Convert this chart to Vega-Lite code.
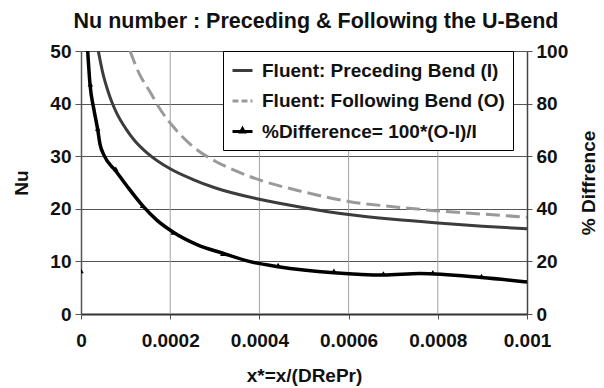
{
  "$schema": "https://vega.github.io/schema/vega-lite/v6.json",
  "width": 446,
  "height": 263,
  "autosize": {"type": "none"},
  "padding": {"left": 81, "top": 51, "right": 77, "bottom": 74},
  "background": "white",
  "title": {"text": "Nu number : Preceding & Following the U-Bend", "font": "Liberation Sans", "fontSize": 21.5, "fontWeight": "bold", "color": "#111111", "anchor": "middle", "offset": 10, "dx": 12},
  "config": {
    "view": {"stroke": null},
    "axis": {"labelFont": "Liberation Sans", "labelFontWeight": "bold", "labelFontSize": 19, "labelColor": "#111111", "titleFont": "Liberation Sans", "titleFontWeight": "bold", "titleFontSize": 19, "titleColor": "#111111"}
  },
  "datasets": {
    "xgrid": [{"x": 0.0002}, {"x": 0.0004}, {"x": 0.0006}, {"x": 0.0008}],
    "preceding": [
      {"x": 0.0000388, "Nu": 50, "series": "Fluent: Preceding Bend (I)"},
      {"x": 0.00005, "Nu": 45.4, "series": "Fluent: Preceding Bend (I)"},
      {"x": 0.00006, "Nu": 42.5, "series": "Fluent: Preceding Bend (I)"},
      {"x": 0.00007, "Nu": 40.1, "series": "Fluent: Preceding Bend (I)"},
      {"x": 0.00008, "Nu": 38.2, "series": "Fluent: Preceding Bend (I)"},
      {"x": 0.0001, "Nu": 35.3, "series": "Fluent: Preceding Bend (I)"},
      {"x": 0.00012, "Nu": 33.0, "series": "Fluent: Preceding Bend (I)"},
      {"x": 0.00015, "Nu": 30.5, "series": "Fluent: Preceding Bend (I)"},
      {"x": 0.0002, "Nu": 27.6, "series": "Fluent: Preceding Bend (I)"},
      {"x": 0.00025, "Nu": 25.6, "series": "Fluent: Preceding Bend (I)"},
      {"x": 0.0003, "Nu": 24.0, "series": "Fluent: Preceding Bend (I)"},
      {"x": 0.0004, "Nu": 21.8, "series": "Fluent: Preceding Bend (I)"},
      {"x": 0.0005, "Nu": 20.2, "series": "Fluent: Preceding Bend (I)"},
      {"x": 0.0006, "Nu": 18.9, "series": "Fluent: Preceding Bend (I)"},
      {"x": 0.0007, "Nu": 18.0, "series": "Fluent: Preceding Bend (I)"},
      {"x": 0.0008, "Nu": 17.3, "series": "Fluent: Preceding Bend (I)"},
      {"x": 0.0009, "Nu": 16.7, "series": "Fluent: Preceding Bend (I)"},
      {"x": 0.001, "Nu": 16.2, "series": "Fluent: Preceding Bend (I)"}
    ],
    "following": [
      {"x": 0.00011, "Nu": 50, "series": "Fluent: Following Bend (O)"},
      {"x": 0.00013, "Nu": 45.8, "series": "Fluent: Following Bend (O)"},
      {"x": 0.000155, "Nu": 42.2, "series": "Fluent: Following Bend (O)"},
      {"x": 0.00018, "Nu": 38.6, "series": "Fluent: Following Bend (O)"},
      {"x": 0.00021, "Nu": 35.3, "series": "Fluent: Following Bend (O)"},
      {"x": 0.00025, "Nu": 31.9, "series": "Fluent: Following Bend (O)"},
      {"x": 0.0003, "Nu": 29.1, "series": "Fluent: Following Bend (O)"},
      {"x": 0.00035, "Nu": 27.1, "series": "Fluent: Following Bend (O)"},
      {"x": 0.0004, "Nu": 25.5, "series": "Fluent: Following Bend (O)"},
      {"x": 0.0005, "Nu": 23.2, "series": "Fluent: Following Bend (O)"},
      {"x": 0.0006, "Nu": 21.4, "series": "Fluent: Following Bend (O)"},
      {"x": 0.0007, "Nu": 20.4, "series": "Fluent: Following Bend (O)"},
      {"x": 0.0008, "Nu": 19.6, "series": "Fluent: Following Bend (O)"},
      {"x": 0.0009, "Nu": 19.0, "series": "Fluent: Following Bend (O)"},
      {"x": 0.001, "Nu": 18.4, "series": "Fluent: Following Bend (O)"}
    ],
    "diffLine": [
      {"x": 0.000015, "pct": 100, "series": "%Difference= 100*(O-I)/I"},
      {"x": 0.0000202, "pct": 87.3, "series": "%Difference= 100*(O-I)/I"},
      {"x": 0.0000291, "pct": 77.6, "series": "%Difference= 100*(O-I)/I"},
      {"x": 0.0000374, "pct": 70.2, "series": "%Difference= 100*(O-I)/I"},
      {"x": 0.0000426, "pct": 64.6, "series": "%Difference= 100*(O-I)/I"},
      {"x": 0.000052, "pct": 60.2, "series": "%Difference= 100*(O-I)/I"},
      {"x": 0.000078, "pct": 54.4, "series": "%Difference= 100*(O-I)/I"},
      {"x": 0.000105, "pct": 48.2, "series": "%Difference= 100*(O-I)/I"},
      {"x": 0.000138, "pct": 41.2, "series": "%Difference= 100*(O-I)/I"},
      {"x": 0.00017, "pct": 35.7, "series": "%Difference= 100*(O-I)/I"},
      {"x": 0.000207, "pct": 31.1, "series": "%Difference= 100*(O-I)/I"},
      {"x": 0.00026, "pct": 26.4, "series": "%Difference= 100*(O-I)/I"},
      {"x": 0.000318, "pct": 23.1, "series": "%Difference= 100*(O-I)/I"},
      {"x": 0.000379, "pct": 19.9, "series": "%Difference= 100*(O-I)/I"},
      {"x": 0.000442, "pct": 18.0, "series": "%Difference= 100*(O-I)/I"},
      {"x": 0.000567, "pct": 15.7, "series": "%Difference= 100*(O-I)/I"},
      {"x": 0.000678, "pct": 14.8, "series": "%Difference= 100*(O-I)/I"},
      {"x": 0.000760, "pct": 15.4, "series": "%Difference= 100*(O-I)/I"},
      {"x": 0.000898, "pct": 13.9, "series": "%Difference= 100*(O-I)/I"},
      {"x": 0.001, "pct": 12.2, "series": "%Difference= 100*(O-I)/I"}
    ],
    "diffPts": [
      {"x": 0.0, "pct": 16.4},
      {"x": 0.000021, "pct": 87.4},
      {"x": 0.0000374, "pct": 70.6},
      {"x": 0.000078, "pct": 55.2},
      {"x": 0.000138, "pct": 41.2},
      {"x": 0.000207, "pct": 31.0},
      {"x": 0.000318, "pct": 23.0},
      {"x": 0.000442, "pct": 18.6},
      {"x": 0.000567, "pct": 16.4},
      {"x": 0.000678, "pct": 15.4},
      {"x": 0.000789, "pct": 15.8},
      {"x": 0.000898, "pct": 14.4}
    ]
  },
  "layer": [
    {
      "layer": [
        {
          "data": {"name": "xgrid"},
          "mark": {"type": "rule", "color": "#a0a0a0", "strokeWidth": 1},
          "encoding": {
            "x": {"field": "x", "type": "quantitative"}
          }
        },
        {
          "data": {"name": "preceding"},
          "mark": {"type": "line", "strokeWidth": 3, "interpolate": "monotone", "clip": true},
          "encoding": {
            "x": {"field": "x", "type": "quantitative", "scale": {"domain": [0, 0.001], "nice": false, "zero": false},
              "axis": {"values": [0, 0.0002, 0.0004, 0.0006, 0.0008, 0.001], "format": ".4~f", "title": "x*=x/(DRePr)", "titlePadding": 16, "grid": false, "domainColor": "#333333", "domainWidth": 2, "tickColor": "#555555", "tickSize": 5, "labelPadding": 12, "labelFlush": false}},
            "y": {"field": "Nu", "type": "quantitative", "scale": {"domain": [0, 50], "nice": false},
              "axis": {"orient": "left", "values": [0, 10, 20, 30, 40, 50], "title": "Nu", "titlePadding": 18, "grid": true, "gridColor": "#555555", "gridWidth": 1, "domainColor": "#555555", "domainWidth": 1.5, "tickColor": "#555555", "tickSize": 6, "labelPadding": 4}},
            "color": {"field": "series", "type": "nominal",
              "scale": {"domain": ["Fluent: Preceding Bend (I)", "Fluent: Following Bend (O)", "%Difference= 100*(O-I)/I"], "range": ["#3c3c3c", "#9a9a9a", "#000000"]},
              "legend": {"orient": "none", "legendX": 142, "legendY": 0, "title": null, "strokeColor": "#000000", "fillColor": "#ffffff", "padding": 8, "rowPadding": 8.5, "labelFont": "Liberation Sans", "labelFontWeight": "bold", "labelFontSize": 19, "labelColor": "#111111", "labelOffset": 8, "labelLimit": 400, "symbolSize": 400, "symbolStrokeWidth": 3, "symbolType": "stroke",
                "encode": {"symbols": {"update": {
                  "strokeDash": {"signal": "datum.value === 'Fluent: Following Bend (O)' ? [6, 3] : [1, 0]"},
                  "shape": {"signal": "datum.value === '%Difference= 100*(O-I)/I' ? 'M-1,0H1M-0.18,0.05L0,-0.28L0.18,0.05Z' : 'M-1,0H1'"},
                  "fill": {"signal": "datum.value === '%Difference= 100*(O-I)/I' ? '#000000' : 'transparent'"}
                }}}}
            }
          }
        },
        {
          "data": {"name": "following"},
          "mark": {"type": "line", "strokeWidth": 3, "strokeDash": [14, 6], "interpolate": "monotone", "clip": true},
          "encoding": {
            "x": {"field": "x", "type": "quantitative"},
            "y": {"field": "Nu", "type": "quantitative"},
            "color": {"field": "series", "type": "nominal"}
          }
        }
      ]
    },
    {
      "layer": [
        {
          "data": {"name": "diffLine"},
          "mark": {"type": "line", "strokeWidth": 3.5, "interpolate": "monotone", "clip": true},
          "encoding": {
            "x": {"field": "x", "type": "quantitative"},
            "y": {"field": "pct", "type": "quantitative", "scale": {"domain": [0, 100], "nice": false},
              "axis": {"orient": "right", "values": [0, 20, 40, 60, 80, 100], "title": "% Diffrence", "titleAngle": 270, "titlePadding": 31, "grid": false, "domainColor": "#444444", "domainWidth": 1.5, "tickColor": "#555555", "tickSize": 5, "labelPadding": 4}},
            "color": {"field": "series", "type": "nominal"}
          }
        },
        {
          "data": {"name": "diffPts"},
          "mark": {"type": "point", "shape": "triangle-up", "filled": true, "size": 30, "color": "#000000", "opacity": 1, "clip": true},
          "encoding": {
            "x": {"field": "x", "type": "quantitative"},
            "y": {"field": "pct", "type": "quantitative"}
          }
        }
      ]
    }
  ],
  "resolve": {"scale": {"y": "independent"}}
}
